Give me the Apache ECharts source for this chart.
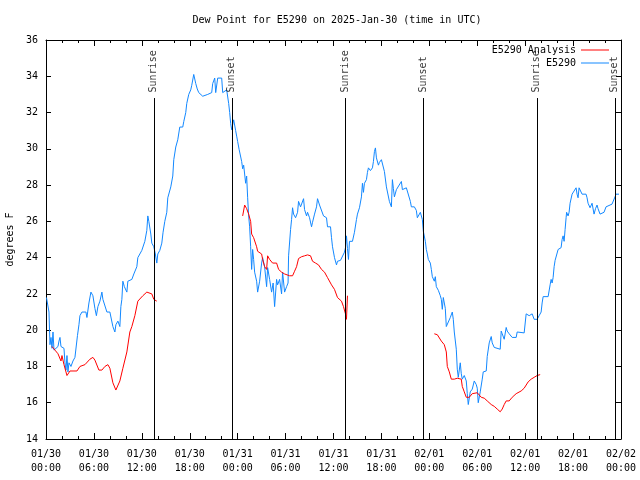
<!DOCTYPE html>
<html>
<head>
<meta charset="utf-8">
<script src="https://cdn.jsdelivr.net/npm/echarts@6/dist/echarts.min.js"></script>
<style>html,body{margin:0;padding:0;background:#fff}#c{width:640px;height:480px}</style>
</head>
<body>
<div id="c"></div>
<script>
// Hours since 2025-01-30 00:00 UTC, dew point in degrees F
const stationReadings = [[0.06,21.8],[0.25,21.7],[0.375,21.0],[0.5,19.2],[0.625,19.6],[0.75,19.0],[0.875,19.9],[1.0,18.9],[1.25,19.0],[1.5,19.1],[1.625,19.4],[1.75,19.6],[1.875,19.1],[2.0,19.1],[2.25,19.0],[2.375,18.2],[2.5,17.8],[2.625,18.6],[2.75,17.7],[2.875,18.2],[3.125,18.0],[3.375,18.3],[3.625,18.5],[3.875,18.5],[3.94,19.7],[4.125,20.3],[4.25,20.8],[4.5,21.0],[4.75,20.9],[5.0,21.0],[5.125,20.7],[5.375,21.5],[5.625,22.1],[5.875,21.9],[6.125,21.2],[6.31,20.8],[6.5,21.3],[6.75,21.6],[7.0,22.1],[7.125,21.7],[7.375,21.8],[7.625,21.0],[8.0,21.0],[8.25,21.0],[8.375,20.2],[8.625,19.9],[8.75,20.3],[9.0,20.5],[9.25,20.2],[9.375,21.3],[9.5,21.7],[9.625,22.7],[9.81,22.4],[10.0,22.3],[10.125,22.1],[10.25,22.7],[10.5,22.7],[10.75,22.8],[11.0,23.1],[11.25,23.1],[11.375,23.5],[11.5,24.0],[11.75,24.2],[12.0,24.4],[12.125,24.4],[12.375,24.9],[12.625,25.5],[12.75,26.3],[12.875,26.0],[13.0,25.9],[13.125,25.3],[13.25,24.8],[13.5,24.6],[13.69,24.2],[13.875,23.7],[14.0,24.2],[14.25,24.4],[14.5,24.8],[14.66,25.4],[14.875,26.0],[15.125,26.5],[15.25,27.3],[15.625,27.9],[15.875,28.5],[16.0,29.4],[16.25,30.1],[16.5,30.5],[16.75,31.2],[17.125,31.2],[17.25,31.5],[17.5,32.0],[17.625,32.5],[17.875,33.0],[18.125,33.25],[18.25,33.5],[18.5,34.1],[18.75,33.6],[18.94,33.3],[19.125,33.1],[19.375,33.2],[19.625,32.9],[19.875,32.8],[20.25,33.0],[20.75,33.1],[20.875,33.6],[21.125,33.9],[21.25,33.1],[21.375,33.1],[21.5,33.9],[22.0,33.9],[22.125,33.1],[22.375,33.1],[22.625,33.25],[22.75,33.2],[22.875,32.5],[23.0,32.0],[23.125,31.4],[23.25,31.05],[23.375,31.1],[23.5,31.6],[23.75,31.0],[23.875,30.7],[24.0,30.4],[24.19,29.95],[24.5,29.3],[24.625,28.9],[24.75,29.1],[25.0,28.1],[25.125,28.5],[25.25,27.3],[25.375,26.3],[25.5,25.7],[25.625,24.6],[25.75,23.35],[25.875,24.45],[26.0,23.9],[26.125,23.2],[26.375,22.7],[26.5,22.1],[26.75,22.7],[27.0,23.7],[27.125,24.0],[27.375,23.5],[27.625,22.4],[27.75,23.45],[28.0,22.8],[28.25,22.1],[28.44,22.6],[28.625,21.3],[28.875,22.8],[29.0,22.5],[29.25,22.8],[29.5,22.0],[29.625,23.2],[29.875,22.1],[30.125,22.4],[30.31,22.6],[30.375,24.1],[30.625,25.55],[30.75,26.1],[30.875,26.75],[31.0,26.4],[31.25,26.2],[31.5,26.5],[31.625,27.1],[31.875,26.8],[32.125,26.9],[32.25,27.25],[32.375,26.65],[32.625,26.3],[32.75,26.5],[33.0,26.2],[33.25,25.7],[33.375,25.95],[33.625,26.4],[33.875,26.8],[34.0,27.25],[34.25,26.9],[34.5,26.9],[34.75,26.3],[35.125,26.2],[35.25,25.7],[35.625,25.7],[35.75,25.1],[35.875,24.6],[36.125,24.0],[36.375,23.6],[36.5,23.8],[36.875,23.85],[37.125,23.9],[37.375,24.3],[37.5,24.55],[37.625,25.2],[37.75,24.5],[37.875,23.9],[38.0,24.9],[38.375,24.9],[38.625,25.4],[38.875,26.1],[39.0,26.4],[39.25,26.75],[39.5,27.35],[39.625,28.1],[39.75,27.6],[39.875,28.1],[40.125,28.3],[40.25,28.7],[40.375,28.95],[40.625,28.8],[40.875,28.95],[41.0,29.3],[41.125,29.85],[41.25,30.05],[41.375,29.5],[41.625,29.1],[41.75,29.25],[42.0,29.4],[42.125,29.35],[42.375,28.75],[42.625,27.9],[42.75,27.9],[43.0,27.1],[43.25,26.8],[43.375,28.3],[43.5,27.8],[43.625,27.35],[43.875,27.75],[44.125,27.75],[44.5,28.2],[44.625,27.75],[44.875,27.85],[45.125,27.85],[45.375,27.85],[45.625,27.1],[45.75,26.8],[46.125,26.8],[46.375,26.6],[46.5,26.2],[46.75,26.1],[46.875,26.5],[47.0,26.6],[47.125,26.1],[47.25,25.45],[47.5,24.9],[47.625,24.45],[47.75,24.2],[47.875,23.9],[48.125,23.7],[48.25,23.35],[48.375,22.95],[48.625,22.7],[48.75,22.95],[48.875,22.4],[49.125,22.2],[49.375,21.9],[49.5,21.7],[49.625,21.15],[49.75,21.8],[50.0,21.2],[50.125,20.2],[50.375,20.2],[50.625,20.7],[50.875,21.0],[51.0,20.6],[51.125,19.9],[51.375,18.95],[51.5,17.85],[51.625,17.4],[51.875,18.2],[52.0,17.6],[52.125,17.3],[52.375,17.5],[52.625,17.2],[52.75,16.5],[52.875,15.9],[53.125,16.6],[53.375,16.75],[53.625,17.2],[53.875,17.0],[54.0,16.8],[54.125,16.0],[54.375,16.6],[54.625,17.3],[54.75,17.7],[55.125,17.75],[55.25,18.55],[55.5,19.3],[55.75,19.65],[55.875,19.3],[56.125,19.05],[56.375,18.95],[56.875,18.95],[57.0,19.95],[57.125,19.8],[57.375,19.5],[57.625,20.15],[57.75,19.95],[58.0,19.8],[58.375,19.6],[58.875,19.6],[59.0,19.9],[59.25,19.85],[59.875,19.85],[60.125,20.9],[60.5,20.8],[60.875,20.9],[61.125,20.6],[61.5,20.6],[61.75,20.8],[62.0,21.0],[62.125,21.5],[62.25,21.85],[62.875,21.85],[63.125,22.5],[63.25,22.8],[63.375,22.6],[63.5,22.9],[63.625,23.5],[63.75,23.85],[64.0,23.9],[64.125,24.45],[64.5,24.55],[64.625,25.0],[64.75,25.2],[64.875,24.9],[65.0,25.55],[65.125,26.2],[65.19,26.5],[65.375,26.3],[65.5,26.5],[65.625,27.0],[65.75,27.1],[65.875,27.5],[66.0,27.6],[66.125,27.4],[66.375,27.85],[66.5,27.5],[66.625,27.3],[66.75,27.85],[67.0,27.8],[67.125,27.5],[67.625,27.5],[67.75,27.3],[67.875,27.0],[68.125,26.75],[68.25,26.7],[68.375,27.0],[68.625,26.4],[68.81,26.7],[69.0,26.9],[69.125,26.7],[69.375,26.4],[69.625,26.4],[69.875,26.5],[70.125,26.8],[70.25,26.9],[70.875,26.95],[71.125,27.0],[71.25,27.35],[71.375,27.5],[71.75,27.5]];

const analysisReadings = [[0.75,19.1],[1.125,18.9],[1.5,18.7],[1.875,18.3],[2.0,18.6],[2.25,18.1],[2.5,17.7],[2.625,17.5],[2.75,17.5],[3.0,17.75],[3.875,17.75],[4.25,18.0],[4.875,18.1],[5.5,18.4],[5.875,18.5],[6.125,18.35],[6.625,17.8],[7.0,17.8],[7.375,18.0],[7.75,18.1],[8.0,17.9],[8.375,17.1],[8.75,16.7],[9.0,16.7],[9.25,17.2],[9.625,17.9],[9.875,18.0],[10.125,18.8],[10.5,19.9],[10.75,20.2],[11.125,20.8],[11.5,21.6],[11.75,21.65],[12.125,21.9],[12.625,22.1],[12.875,22.1],[13.25,22.0],[13.5,21.7],[13.875,21.6],
[18,null],
[24.625,26.3],[24.875,26.9],[25.125,26.7],[25.375,26.4],[25.625,26.0],[25.75,25.3],[26.0,25.1],[26.375,24.6],[26.5,24.35],[26.75,24.3],[27.0,24.2],[27.125,23.9],[27.375,23.5],[27.625,23.35],[27.75,24.1],[28.0,23.9],[28.375,23.7],[28.875,23.7],[29.125,23.35],[29.5,23.2],[29.875,23.1],[30.5,23.0],[30.875,23.0],[31.125,23.25],[31.375,23.5],[31.625,23.95],[32.0,24.05],[32.375,24.1],[32.75,24.15],[33.125,24.1],[33.375,23.8],[33.75,23.7],[34.125,23.6],[34.5,23.35],[34.875,23.2],[35.25,22.9],[35.75,22.5],[36.125,22.25],[36.5,21.8],[37.0,21.6],[37.25,21.3],[37.5,20.9],[37.625,20.6],[37.75,21.9],
[42,null],
[48.625,19.8],[49.0,19.75],[49.5,19.4],[49.875,19.2],[50.125,18.8],[50.25,18.0],[50.5,17.7],[50.75,17.3],[51.125,17.3],[51.5,17.35],[52.0,17.3],[52.125,16.9],[52.375,16.6],[52.625,16.3],[53.0,16.3],[53.375,16.5],[53.625,16.6],[54.0,16.55],[54.5,16.3],[54.875,16.25],[55.25,16.1],[55.75,15.9],[56.125,15.8],[56.5,15.65],[56.875,15.5],[57.125,15.65],[57.375,15.9],[57.625,16.1],[58.0,16.1],[58.375,16.3],[58.875,16.5],[59.125,16.55],[59.5,16.65],[59.875,16.8],[60.125,16.85],[60.375,17.15],[60.75,17.3],[61.125,17.4],[61.5,17.5],[61.875,17.55]];

const sunHours = [13.5, 23.3, 37.5, 47.3, 61.5, 71.25];
const sunLabels = ['Sunrise', 'Sunset', 'Sunrise', 'Sunset', 'Sunrise', 'Sunset'];
const xTickLabels = ['01/30\n00:00','01/30\n06:00','01/30\n12:00','01/30\n18:00','01/31\n00:00','01/31\n06:00','01/31\n12:00','01/31\n18:00','02/01\n00:00','02/01\n06:00','02/01\n12:00','02/01\n18:00','02/02\n00:00'];
const seriesNames = ['E5290 Analysis', 'E5290'];
const titleText = 'Dew Point for E5290 on 2025-Jan-30 (time in UTC)';

const FONT = 'DejaVu Sans Mono';
const chart = echarts.init(document.getElementById('c'), null, {renderer: 'canvas'});

function xAxisDef(pos, showLabel) {
  return {
    type: 'value', position: pos, min: 0, max: 72, interval: 6,
    axisLine: {show: true, onZero: false, lineStyle: {color: '#000', width: 1}},
    axisTick: {show: true, inside: true, length: 6, lineStyle: {color: '#000'}},
    minorTick: {show: true, splitNumber: 3, length: 3, lineStyle: {color: '#000'}},
    splitLine: {show: false}, minorSplitLine: {show: false},
    axisLabel: {show: showLabel, color: '#000', fontFamily: FONT, fontSize: 10, lineHeight: 14, margin: 8,
      formatter: v => xTickLabels[Math.round(v / 6)]}
  };
}
function yAxisDef(pos, showLabel) {
  return {
    type: 'value', position: pos, min: 14, max: 36, interval: 2,
    axisLine: {show: true, onZero: false, lineStyle: {color: '#000', width: 1}},
    axisTick: {show: true, inside: true, length: 5, lineStyle: {color: '#000'}},
    splitLine: {show: false},
    axisLabel: {show: showLabel, color: '#000', fontFamily: FONT, fontSize: 10, margin: 8},
    name: showLabel ? 'degrees F' : '', nameLocation: 'middle', nameRotate: 90, nameGap: 31,
    nameTextStyle: {color: '#000', fontFamily: FONT, fontSize: 10}
  };
}

const option = {
  animation: false,
  backgroundColor: '#fff',
  title: {text: titleText, left: 332, top: 10, textAlign: 'center',
    textStyle: {fontFamily: FONT, fontSize: 10, fontWeight: 'normal', color: '#000'}},
  grid: {left: 46, right: 19, top: 40, bottom: 41, containLabel: false, outerBoundsMode: 'none'},
  legend: [
    {data: [seriesNames[0]], right: 26, top: 40, orient: 'horizontal', align: 'right', icon: 'rect',
      itemWidth: 28, itemHeight: 1, textStyle: {fontFamily: FONT, fontSize: 10, color: '#000'}},
    {data: [seriesNames[1]], right: 26, top: 53, orient: 'horizontal', align: 'right', icon: 'rect',
      itemWidth: 28, itemHeight: 1, textStyle: {fontFamily: FONT, fontSize: 10, color: '#000'}}
  ],
  xAxis: [xAxisDef('bottom', true), xAxisDef('top', false)],
  yAxis: [yAxisDef('left', true), yAxisDef('right', false)],
  series: [
    {name: seriesNames[0], type: 'line', data: analysisReadings, showSymbol: false, symbol: 'none',
      connectNulls: false, color: '#ff0000', lineStyle: {color: '#ff0000', width: 1}, z: 3},
    {name: seriesNames[1], type: 'line', data: stationReadings, showSymbol: false, symbol: 'none',
      color: '#1288ff', lineStyle: {color: '#1288ff', width: 1}, z: 2},
    {name: 'sun', type: 'scatter', symbol: 'circle', symbolSize: 1, itemStyle: {color: 'rgba(0,0,0,0)'},
      data: sunHours.map((h, i) => [h, 33.08, sunLabels[i]]),
      label: {show: true, formatter: p => p.value[2], position: [0, 0], rotate: 90,
        align: 'left', verticalAlign: 'middle', fontFamily: FONT, fontSize: 10, color: '#000'},
      markLine: {silent: true, symbol: ['none', 'none'], label: {show: false},
        lineStyle: {color: '#000', width: 1, type: 'solid'},
        data: sunHours.map(h => [{coord: [h, 14]}, {coord: [h, 32.8]}])},
      z: 4}
  ]
};
chart.setOption(option);
</script>
</body>
</html>
